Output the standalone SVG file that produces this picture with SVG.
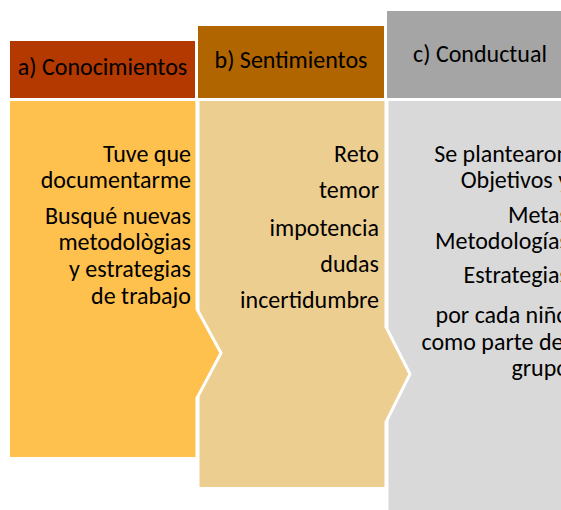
<svg xmlns="http://www.w3.org/2000/svg" width="561" height="510" viewBox="0 0 561 510">
<style>
text{font-family:Carlito,Lato,"Liberation Sans",sans-serif;fill:#000;font-size:24px}
.h{text-anchor:middle}
.r{text-anchor:end}
.body{stroke:#fff;stroke-width:3;stroke-linejoin:miter}
</style>
<rect width="561" height="510" fill="#fff"/>
<g id="node-c">
<rect x="387" y="11" width="190" height="87" fill="#A5A5A5"/>
<text class="h" x="480" y="62">c) Conductual</text>
<polygon class="body" points="387,99.5 600,99.5 600,520 387,520" fill="#D9D9D9"/>
<text class="r" x="569" y="162">Se plantearon</text>
<text class="r" x="569" y="188">Objetivos y</text>
<text class="r" x="569" y="223">Metas</text>
<text class="r" x="569" y="249">Metodologías</text>
<text class="r" x="569" y="283">Estrategias</text>
<text class="r" x="569" y="323">por cada niño</text>
<text class="r" x="569" y="350">como parte del</text>
<text class="r" x="569" y="376">grupo</text>
</g>
<g id="node-b">
<rect x="198" y="26" width="186" height="72" fill="#B06500"/>
<text class="h" x="291" y="68">b) Sentimientos</text>
<polygon class="body" points="198,99.5 386,99.5 386,327 410,374 386,422 386,488.5 198,488.5" fill="#EDCE91"/>
<text class="r" x="379" y="162">Reto</text>
<text class="r" x="379" y="198">temor</text>
<text class="r" x="379" y="236">impotencia</text>
<text class="r" x="379" y="272">dudas</text>
<text class="r" x="379" y="308">incertidumbre</text>
</g>
<g id="node-a">
<rect x="10" y="41" width="185" height="57" fill="#B33900"/>
<text class="h" x="102.5" y="75">a) Conocimientos</text>
<polygon class="body" points="8.5,99.5 197,99.5 197,309 221,353 197,398 197,458.5 8.5,458.5" fill="#FFC14D"/>
<text class="r" x="191" y="162">Tuve que</text>
<text class="r" x="191" y="188">documentarme</text>
<text class="r" x="191" y="224">Busqué nuevas</text>
<text class="r" x="191" y="250">metodològias</text>
<text class="r" x="191" y="277">y estrategias</text>
<text class="r" x="191" y="304">de trabajo</text>
</g>
<g id="connectors"></g>
</svg>
